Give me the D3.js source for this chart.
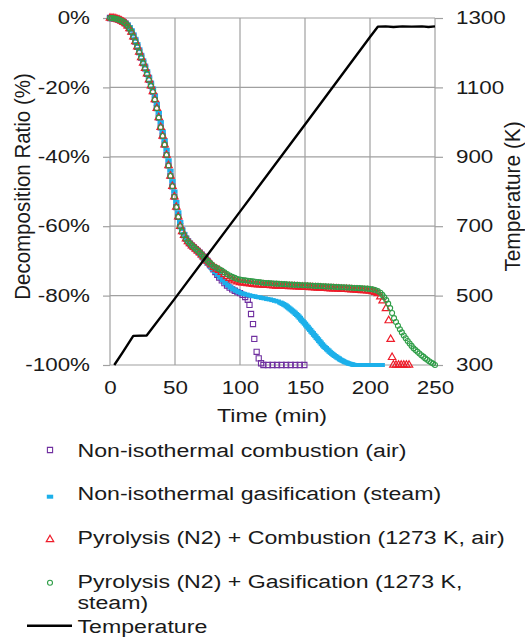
<!DOCTYPE html>
<html>
<head>
<meta charset="utf-8">
<script src="https://cdn.jsdelivr.net/npm/d3@7"></script>
<style>
body { margin: 0; background: #fff; }
text { font-family: "Liberation Sans", Arial, sans-serif; fill: #1a1a1a; }
</style>
</head>
<body>
<svg></svg>
<script>
// tick labels
var timeTicks = [0, 50, 100, 150, 200, 250];
var ratioTicks = [0, -20, -40, -60, -80, -100];
var tempTicks = [300, 500, 700, 900, 1100, 1300];

// shared start of the curves (pyrolysis part, min / %)
var earlyTime = [0, 1.5, 3, 4.5, 6, 7.5, 9, 10.5, 12, 13.5, 15, 16.5, 18, 19.5, 21, 22.5, 24, 25.5, 27, 28.5,
    30, 31.5, 33, 34.5, 36, 37.5, 39, 40.5, 42, 43.5, 45, 46.5, 48, 49.5, 51, 52.5, 54, 55.5, 57, 58.5,
    60, 61.5, 63, 64.5, 66, 67.5, 69, 70.5, 72, 73.5, 75];
var earlyRatio = [0, -0.05, -0.1, -0.2, -0.4, -0.6, -0.9, -1.2, -1.6, -2.2, -3, -4, -5.4, -6.8, -8.3, -9.8, -11.4, -13, -14.5, -16.1,
    -17.8, -19.5, -21.2, -23.5, -26, -28.7, -31.5, -34, -36.5, -39.5, -42.5, -45.5, -48.5, -51.5, -54.5, -57.3, -60, -61.5, -62.6, -63.6,
    -64.4, -65, -65.6, -66.1, -66.6, -67.1, -67.6, -68.2, -68.8, -69.4, -70];
// gasification run lags a little behind
var earlyRatioSteam = [0, 0, -0.05, -0.15, -0.3, -0.5, -0.75, -1.05, -1.4, -1.9, -2.6, -3.5, -4.7, -6, -7.5, -9, -10.6, -12.2, -13.7, -15.3,
    -16.9, -18.6, -20.3, -22.3, -24.7, -27.3, -30, -32.7, -35.2, -38, -41, -44, -47, -50, -53, -56, -58.8, -60.8, -62.2, -63.3,
    -64.2, -65, -65.6, -66.2, -66.8, -67.4, -68, -68.7, -69.4, -70.1, -70.8];

// non-isothermal combustion (air)
var combTime = [76.5, 78, 79.5, 81, 82.5, 84, 86, 88, 90, 92, 94, 96, 98, 100, 102, 104, 106, 107.3, 108.5, 110,
    111, 112.8, 114.4, 116.2, 118, 121.5, 125, 128.5, 132, 135.5, 139, 142.5, 146, 149.5];
var combRatio = [-70.8, -71.6, -72.4, -73.2, -74, -74.8, -75.6, -76.4, -77.1, -77.7, -78.2, -78.6, -79, -79.3, -79.8, -80.4, -81.2, -82.7, -85.3, -88.2,
    -92.5, -96.2, -98.1, -99.5, -100, -100, -100, -100, -100, -100, -100, -100, -100, -100];

// non-isothermal gasification (steam)
var gasTime = [77, 79, 81, 83, 85, 87, 89, 91, 93, 95, 97, 99, 101, 103, 105, 107, 109, 111, 113, 115,
    117, 119, 121, 123, 125, 127, 129, 131, 132, 133, 134, 135, 136, 137, 138, 139, 140, 141, 142, 143,
    144, 145, 146, 147, 148, 149, 150, 151, 152, 153, 154, 155, 156, 157, 158, 159, 160, 161, 162, 163,
    164, 165, 166, 167, 168, 169, 170, 171, 172, 173, 174, 175, 176, 177, 178, 179, 180, 181, 182, 183,
    184, 185, 186, 187, 188, 190, 192, 194, 196, 198, 200, 202, 204, 206, 208, 209];
var gasRatio = [-71.6, -72.4, -73.2, -74, -74.8, -75.6, -76.4, -77.1, -77.7, -78.2, -78.6, -79, -79.3, -79.5, -79.7, -79.9, -80.1, -80.2, -80.4, -80.5,
    -80.7, -80.8, -81, -81.1, -81.3, -81.5, -81.7, -82, -82.2, -82.4, -82.6, -82.8, -83.1, -83.4, -83.7, -84, -84.3, -84.6, -84.9, -85.3,
    -85.6, -86, -86.4, -86.9, -87.3, -87.7, -88.1, -88.6, -89, -89.5, -89.9, -90.4, -90.8, -91.3, -91.7, -92.2, -92.6, -93.1, -93.5, -94,
    -94.4, -94.8, -95.1, -95.5, -95.8, -96.2, -96.5, -96.8, -97.1, -97.4, -97.6, -97.9, -98.1, -98.4, -98.6, -98.8, -99, -99.2, -99.3, -99.5,
    -99.6, -99.7, -99.8, -99.9, -100, -100, -100, -100, -100, -100, -100, -100, -100, -100, -100, -100];

// pyrolysis (N2) + combustion (1273 K, air)
var pyroCombTime = [76.5, 78, 80, 82, 84, 86, 88, 90, 92, 94, 96, 98, 100, 102, 104, 106, 108, 110, 112, 114,
    116, 118, 120, 122, 124, 126, 128, 130, 132, 134, 136, 138, 140, 142, 144, 146, 148, 150, 152, 154,
    156, 158, 160, 162, 164, 166, 168, 170, 172, 174, 176, 178, 180, 182, 184, 186, 188, 190, 192, 194,
    196, 198, 200, 202, 204, 206, 208, 209.7, 212.3, 214.4, 215.9, 217, 218, 220, 222, 224, 226, 228, 230];
var pyroCombRatio = [-70.5, -71.1, -71.8, -72.3, -72.7, -73.3, -73.9, -74.5, -75, -75.4, -75.7, -76, -76.2, -76.3, -76.4, -76.5, -76.6, -76.7, -76.8, -76.85,
    -76.9, -76.95, -77, -77.05, -77.1, -77.15, -77.2, -77.2, -77.25, -77.3, -77.3, -77.35, -77.4, -77.4, -77.45, -77.5, -77.55, -77.6, -77.6, -77.65,
    -77.7, -77.75, -77.8, -77.8, -77.85, -77.9, -77.95, -78, -78, -78.05, -78.1, -78.15, -78.2, -78.2, -78.25, -78.3, -78.35, -78.4, -78.45, -78.5,
    -78.55, -78.6, -78.65, -78.8, -79, -79.4, -80.3, -81.5, -83.7, -87.2, -92.6, -97.8, -100, -100, -100, -100, -100, -100, -100];

// pyrolysis (N2) + gasification (1273 K, steam)
var pyroGasTime = [76.5, 78, 80, 82, 84, 86, 88, 90, 92, 94, 96, 98, 100, 102, 104, 106, 108, 110, 112, 114,
    116, 118, 120, 122, 124, 126, 128, 130, 132, 134, 136, 138, 140, 142, 144, 146, 148, 150, 152, 154,
    156, 158, 160, 162, 164, 166, 168, 170, 172, 174, 176, 178, 180, 182, 184, 186, 188, 190, 192, 194,
    196, 198, 200, 202, 204, 206, 208, 209.5, 211, 212.5, 214, 215.5, 217, 218.5, 220, 221.5, 223, 224.5, 226, 227.5,
    229, 230.5, 232, 233.5, 235, 236.5, 238, 239.5, 241, 242.5, 244, 245.5, 247, 248.5, 250];
var pyroGasRatio = [-70.5, -71, -71.6, -72, -72.4, -72.8, -73.3, -73.8, -74.2, -74.6, -74.9, -75.2, -75.4, -75.5, -75.6, -75.7, -75.8, -75.9, -76, -76.1,
    -76.2, -76.3, -76.35, -76.4, -76.45, -76.5, -76.55, -76.6, -76.65, -76.7, -76.75, -76.8, -76.85, -76.9, -76.9, -76.95, -77, -77, -77.05, -77.1,
    -77.15, -77.2, -77.2, -77.25, -77.3, -77.35, -77.4, -77.4, -77.45, -77.5, -77.55, -77.6, -77.6, -77.65, -77.7, -77.75, -77.8, -77.8, -77.85, -77.9,
    -77.95, -78, -78.1, -78.2, -78.4, -78.7, -79.2, -79.8, -80.5, -81.3, -82.3, -83.6, -85, -86.5, -87.6, -88.7, -89.7, -90.6, -91.5, -92.3,
    -93.1, -93.8, -94.5, -95.2, -95.7, -96.2, -96.7, -97.2, -97.6, -98.1, -98.5, -98.9, -99.3, -99.6, -100];

// furnace temperature (min / K)
var tempTime = [3.3, 10, 17.9, 28.2, 50, 100, 150, 200, 206, 212, 218, 225, 232, 240, 245, 250];
var tempValue = [300, 338, 384, 385, 492, 742, 993, 1245, 1275, 1276, 1274, 1276, 1275, 1276, 1274, 1276];

var legendLabels = [
    ["Non-isothermal combustion (air)"],
    ["Non-isothermal gasification (steam)"],
    ["Pyrolysis (N2) + Combustion (1273 K, air)"],
    ["Pyrolysis (N2) + Gasification (1273 K,", "steam)"]
];

var width = 525,
    height = 637;
var sx = 1.28; // the picture's text is wider than plain Arial

var svg = d3.select("svg")
    .attr("width", width)
    .attr("height", height);

var x = d3.scaleLinear().domain([0, 250]).range([110, 435]);
var y = d3.scaleLinear().domain([-100, 0]).range([365, 18]);
var yT = d3.scaleLinear().domain([300, 1300]).range([365, 18]);

function zip(ts, vs) {
    return ts.map(function(t, i) { return [t, vs[i]]; });
}
var combPts = zip(earlyTime, earlyRatio).concat(zip(combTime, combRatio));
var gasPts = zip(earlyTime, earlyRatioSteam).concat(zip(gasTime, gasRatio));
var pyroCombPts = zip(earlyTime, earlyRatio).concat(zip(pyroCombTime, pyroCombRatio));
var pyroGasPts = zip(earlyTime, earlyRatio).concat(zip(pyroGasTime, pyroGasRatio));
var tempPts = zip(tempTime, tempValue);

// grid
var grid = svg.append("g").attr("stroke", "#a0a0a0").attr("stroke-width", 1.2);
grid.selectAll(".gx")
    .data(timeTicks)
    .enter().append("line")
    .attr("x1", function(d) { return x(d); })
    .attr("x2", function(d) { return x(d); })
    .attr("y1", y(0))
    .attr("y2", y(-100));
grid.selectAll(".gy")
    .data(ratioTicks)
    .enter().append("line")
    .attr("x1", x(0))
    .attr("x2", x(250))
    .attr("y1", function(d) { return y(d); })
    .attr("y2", function(d) { return y(d); });

function styleAxis(g, size) {
    g.select(".domain").remove();
    g.selectAll("line").attr("stroke", "#a0a0a0").attr("stroke-width", 1.2);
    g.selectAll("text")
        .attr("font-size", size)
        .attr("fill", "#1a1a1a")
        .attr("x", function() { return (+this.getAttribute("x") || 0) / sx; })
        .attr("transform", "scale(" + sx + ",1)");
}

svg.append("g")
    .attr("transform", "translate(110,0)")
    .call(d3.axisLeft(y).tickValues(ratioTicks).tickSize(7).tickPadding(13)
        .tickFormat(function(d) { return d + "%"; }))
    .call(styleAxis, 17.5);

svg.append("g")
    .attr("transform", "translate(435,0)")
    .call(d3.axisRight(yT).tickValues(tempTicks).tickSize(8).tickPadding(13)
        .tickFormat(d3.format("d")))
    .call(styleAxis, 17.5);

svg.append("g")
    .attr("transform", "translate(0,365)")
    .call(d3.axisBottom(x).tickValues(timeTicks).tickSize(0).tickPadding(16.5))
    .call(styleAxis, 17.5);

// axis titles
svg.append("text")
    .attr("transform", "translate(29.5,186.5) scale(1.1,1) rotate(-90)")
    .attr("text-anchor", "middle")
    .attr("font-size", 20.5)
    .text("Decomposition Ratio (%)");
svg.append("text")
    .attr("transform", "translate(520,196.5) scale(1.1,1) rotate(-90)")
    .attr("text-anchor", "middle")
    .attr("font-size", 20.8)
    .text("Temperature (K)");
svg.append("text")
    .attr("transform", "translate(272,422) scale(1.25,1)")
    .attr("text-anchor", "middle")
    .attr("font-size", 18.6)
    .text("Time (min)");

// series
var purple = "#7030a0", blue = "#1cb0ea", red = "#ee1c2a", green = "#2f9e48";

svg.append("g").selectAll("path")
    .data(combPts)
    .enter().append("path")
    .attr("transform", function(d) { return "translate(" + x(d[0]) + "," + y(d[1]) + ")"; })
    .attr("d", d3.symbol(d3.symbolSquare, 27)())
    .attr("fill", "none")
    .attr("stroke", purple)
    .attr("stroke-width", 1.1);

svg.append("g").selectAll("rect")
    .data(gasPts)
    .enter().append("rect")
    .attr("x", function(d) { return x(d[0]) - 3.2; })
    .attr("y", function(d) { return y(d[1]) - 2; })
    .attr("width", 6.4)
    .attr("height", 4)
    .attr("fill", blue);

svg.append("g").selectAll("path")
    .data(pyroCombPts)
    .enter().append("path")
    .attr("transform", function(d) { return "translate(" + x(d[0]) + "," + y(d[1]) + ")"; })
    .attr("d", d3.symbol(d3.symbolTriangle, 24)())
    .attr("fill", "none")
    .attr("stroke", red)
    .attr("stroke-width", 1.2);

svg.append("g").selectAll("circle")
    .data(pyroGasPts)
    .enter().append("circle")
    .attr("cx", function(d) { return x(d[0]); })
    .attr("cy", function(d) { return y(d[1]); })
    .attr("r", 2.5)
    .attr("fill", "none")
    .attr("stroke", green)
    .attr("stroke-width", 1.1);

svg.append("path")
    .datum(tempPts)
    .attr("fill", "none")
    .attr("stroke", "#000")
    .attr("stroke-width", 2.4)
    .attr("stroke-linejoin", "round")
    .attr("d", d3.line()
        .x(function(d) { return x(d[0]); })
        .y(function(d) { return yT(d[1]); }));

// legend
var legendY = [457, 500, 544, 588];
var lsx = 1.3;
var legend = svg.append("g");
legend.selectAll("text")
    .data(legendLabels)
    .enter().append("text")
    .attr("transform", function(d, i) { return "translate(77.5," + legendY[i] + ") scale(" + lsx + ",1)"; })
    .attr("font-size", 17.8)
    .selectAll("tspan")
    .data(function(d) { return d; })
    .enter().append("tspan")
    .attr("x", 0)
    .attr("dy", function(d, i) { return i ? 21 : 0; })
    .text(function(d) { return d; });

legend.append("path")
    .attr("transform", "translate(50,450)")
    .attr("d", d3.symbol(d3.symbolSquare, 27)())
    .attr("fill", "none").attr("stroke", purple).attr("stroke-width", 1.1);
legend.append("rect")
    .attr("x", 46.8).attr("y", 494.7).attr("width", 6.4).attr("height", 4)
    .attr("fill", blue);
legend.append("path")
    .attr("transform", "translate(50,539.5)")
    .attr("d", d3.symbol(d3.symbolTriangle, 24)())
    .attr("fill", "none").attr("stroke", red).attr("stroke-width", 1.2);
legend.append("circle")
    .attr("cx", 50).attr("cy", 582.7).attr("r", 2.5)
    .attr("fill", "none").attr("stroke", green).attr("stroke-width", 1.1);
legend.append("line")
    .attr("x1", 27).attr("x2", 72).attr("y1", 625.7).attr("y2", 625.7)
    .attr("stroke", "#000").attr("stroke-width", 2.4);
legend.append("text")
    .attr("transform", "translate(77.5,633) scale(" + lsx + ",1)")
    .attr("font-size", 17.8)
    .text("Temperature");
</script>
</body>
</html>
